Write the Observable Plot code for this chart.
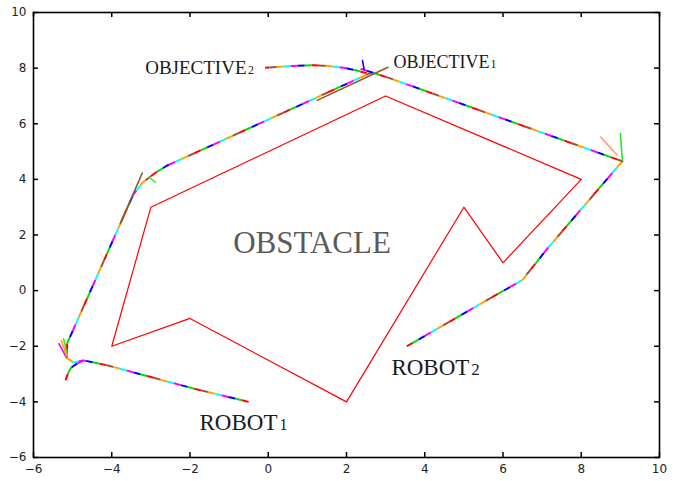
<!DOCTYPE html>
<html><head><meta charset="utf-8">
<script src="https://cdn.jsdelivr.net/npm/d3@7"></script>
<script src="https://cdn.jsdelivr.net/npm/@observablehq/plot@0.6"></script>
<style>body{margin:0;background:#fff}</style>
</head><body><div id="chart"></div>
<script>
const xTicks = [-6,-4,-2,0,2,4,6,8,10];
const yTicks = [-6,-4,-2,0,2,4,6,8,10];

const obstacle = [[3,7],[8,4],[6,1],[5,3],[2,-4],[-2,-1],[-4,-2],[-3,3],[3,7]];

const robot1Path = [[-0.5,-4.0],[-1.91,-3.52],[-3.34,-2.98],[-4.1,-2.69],[-4.72,-2.51],[-4.98,-2.58],[-5.15,-2.42],[-5.14,-1.9],[-3.78,2.41],[-3.45,3.45],[-3.2,3.9],[-2.9,4.22],[-2.58,4.5],[-1.73,5.04],[2.65,7.85]];
const robot1Start = [[-5.18,-3.22],[-5.05,-2.8],[-4.88,-2.62],[-4.72,-2.51]];
const robot2Path = [[3.54,-2.0],[6.5,0.39],[7.11,1.47],[9.05,4.65],[3.12,7.63],[2.36,7.98]];
const objective2Path = [[2.52,7.82],[1.92,8.01],[1.16,8.1],[-0.08,8.01]];

const brownSegment = [[1.25,6.84],[3.06,8.03]];
const brownTip = [[-3.78,2.41],[-3.22,4.23]];
const blueHook = [[2.41,8.27],[2.45,7.95]];
const greenRight = [[9.0,5.65],[9.05,4.7]];
const orangeRight = [[8.5,5.52],[8.92,4.87]];
const greenLeft = [[-5.23,-1.73],[-5.14,-2.33]];
const magentaLeft = [[-5.35,-1.91],[-5.16,-2.4]];
const orangeLeft = [[-5.29,-1.79],[-5.15,-2.35]];
const greenCurl = [[-3.05,4.08],[-2.88,3.89]];

const labelMain = [
  {t:"ROBOT", x:0.236, y:-4.995, s:23},
  {t:"ROBOT", x:5.14, y:-3.02, s:23},
  {t:"OBJECTIVE", x:-0.556, y:7.79, s:19},
  {t:"OBJECTIVE", x:5.655, y:8.01, s:18}
];
const labelSub = [
  {t:"1", x:0.29, y:-4.995, s:16},
  {t:"2", x:5.19, y:-3.02, s:17},
  {t:"2", x:-0.52, y:7.79, s:12},
  {t:"1", x:5.68, y:8.01, s:12}
];
const obstacleLabel = [{t:"OBSTACLE", x:1.12, y:1.36}];

const rainbow = ["#ff0000","#00dd00","#0000ff","#ff00ff","#00ffff","#ffa500","#a0522d"];
const rainbowPaths = [[robot1Path,"linear"], [robot1Start,"catmull-rom"], [robot2Path,"linear"], [objective2Path,"catmull-rom"]];

const W = 673, H = 481, mL = 33, mR = 14, mT = 12, mB = 24;
const iW = W - mL - mR, iH = H - mT - mB;
const tk = 5;
const dash = 7;

const marks = [];
marks.push(Plot.line(obstacle, {x: d=>d[0], y: d=>d[1], stroke:"#ff0000", strokeWidth:1.2}));
for (const [p,curve] of rainbowPaths) {
  rainbow.forEach((c,i) => {
    marks.push(Plot.line(p, {x:d=>d[0], y:d=>d[1], curve, stroke:c, strokeWidth:2,
      strokeDasharray:`${dash},${dash*(rainbow.length-1)}`, strokeDashoffset: -dash*i, strokeLinecap:"butt"}));
  });
}
const singles = [[brownSegment,"#a0522d"],[brownTip,"#8b5a2b"],[blueHook,"#0000ff"],[greenRight,"#22ee22"],[orangeRight,"#ffa07a"],[greenLeft,"#33ee33"],[magentaLeft,"#ff00ff"],[orangeLeft,"#ffa500"],[greenCurl,"#44ee44"]];
for (const [p,c] of singles) marks.push(Plot.line(p, {x:d=>d[0], y:d=>d[1], stroke:c, strokeWidth:1.6}));

marks.push(Plot.text(labelMain, {x:"x", y:"y", text:"t", fontSize:d=>d.s, textAnchor:"end", lineAnchor:"bottom", fontFamily:"Liberation Serif, Times New Roman, serif", fill:"#1a1a1a"}));
marks.push(Plot.text(labelSub, {x:"x", y:"y", text:"t", fontSize:d=>d.s, textAnchor:"start", lineAnchor:"bottom", fontFamily:"Liberation Serif, Times New Roman, serif", fill:"#1a1a1a"}));
marks.push(Plot.text(obstacleLabel, {x:"x", y:"y", text:"t", fontSize:31, textAnchor:"middle", lineAnchor:"bottom", fontFamily:"Liberation Serif, Times New Roman, serif", fill:"#5a5a5a"}));

// inward ticks on all four sides
marks.push(Plot.tickX(xTicks, {x:d=>d, insetTop:iH-tk, stroke:"#000", strokeWidth:1.5}));
marks.push(Plot.tickX(xTicks, {x:d=>d, insetBottom:iH-tk, stroke:"#000", strokeWidth:1.5}));
marks.push(Plot.tickY(yTicks, {y:d=>d, insetRight:iW-tk, stroke:"#000", strokeWidth:1.5}));
marks.push(Plot.tickY(yTicks, {y:d=>d, insetLeft:iW-tk, stroke:"#000", strokeWidth:1.5}));
marks.push(Plot.axisX(xTicks, {anchor:"bottom", tickSize:0, tickPadding:7, fontSize:12, fill:"#222", label:null}));
marks.push(Plot.axisY(yTicks, {anchor:"left", tickSize:0, tickPadding:7, fontSize:12, fill:"#222", label:null}));
marks.push(Plot.frame({stroke:"#000", strokeWidth:1.6}));

const chart = Plot.plot({
  width: W, height: H,
  marginLeft: mL, marginRight: mR, marginTop: mT, marginBottom: mB,
  style: {fontFamily:"DejaVu Sans, sans-serif", background:"#fff"},
  x: {domain:[-6,10], axis:null, label:null},
  y: {domain:[-6,10], axis:null, label:null},
  marks
});
document.getElementById("chart").appendChild(chart);
</script>
</body></html>
